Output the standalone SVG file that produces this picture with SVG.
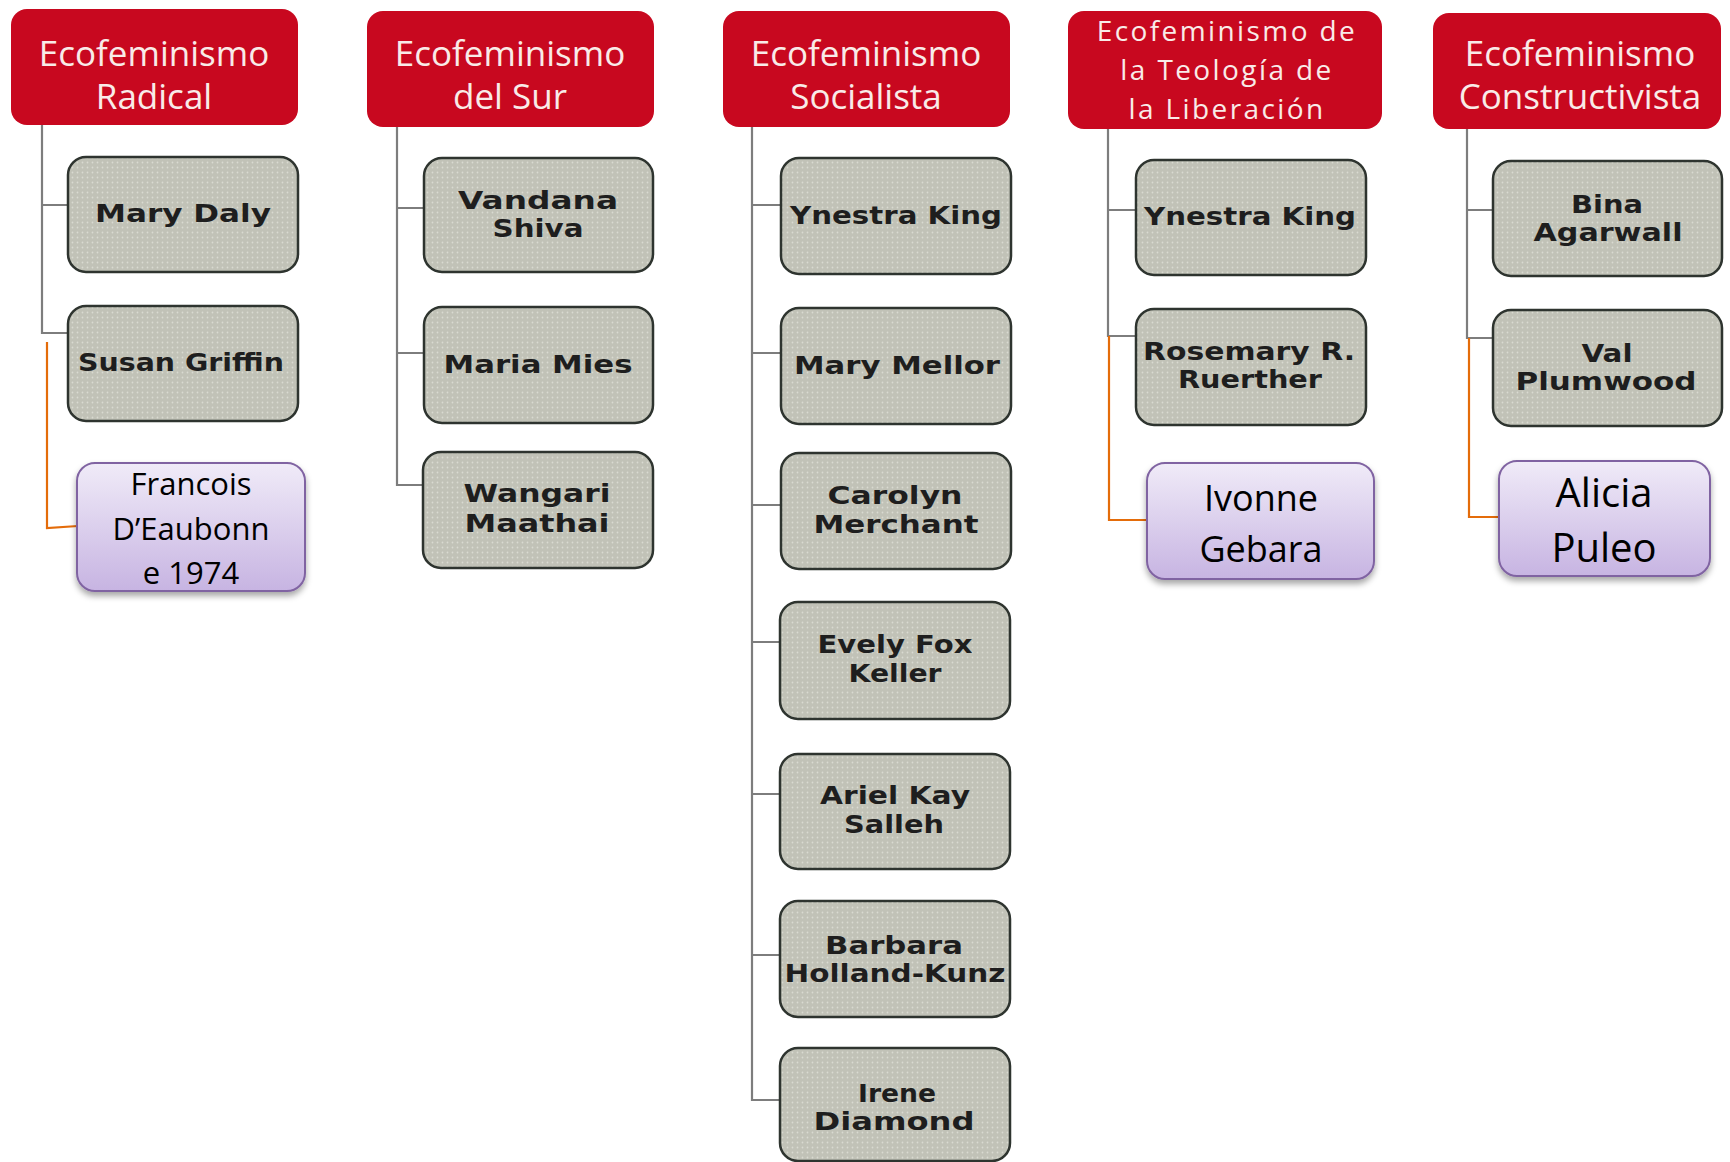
<svg xmlns="http://www.w3.org/2000/svg" width="1730" height="1162" viewBox="0 0 1730 1162">
<style>
.hdr{fill:#c8081f;}
.ht{fill:#f9ebe8;font-family:"Open Sans","Liberation Sans",sans-serif;font-size:35px;text-anchor:middle;}
.ht2{font-size:28px;letter-spacing:2.4px;}
.gb{fill:url(#dots);stroke:#2e342f;stroke-width:2.5;}
.gt{fill:#1e1e1e;font-family:"DejaVu Sans","Liberation Sans",sans-serif;font-weight:bold;font-size:25px;text-anchor:middle;}
.pb{fill:url(#lav);stroke:#8064a2;stroke-width:2;filter:url(#sh);}
.pt{fill:#000;font-family:"Open Sans","Liberation Sans",sans-serif;text-anchor:middle;}
.gl{stroke:#7d7d7d;stroke-width:2.2;fill:none;}
.ol{stroke:#e46c0a;stroke-width:2.2;fill:none;}
</style>
<defs>
<pattern id="dots" width="5" height="5" patternUnits="userSpaceOnUse">
<rect width="5" height="5" fill="#c1c2b7"/>
<circle cx="2.5" cy="2.5" r="0.9" fill="#d9dad1"/>
</pattern>
<linearGradient id="lav" x1="0" y1="0" x2="0" y2="1">
<stop offset="0" stop-color="#f0ebf8"/>
<stop offset="1" stop-color="#c7b4e2"/>
</linearGradient>
<filter id="sh" x="-10%" y="-10%" width="120%" height="130%">
<feDropShadow dx="0" dy="4" stdDeviation="3" flood-color="#000" flood-opacity="0.35"/>
</filter>
</defs>
<rect width="1730" height="1162" fill="#ffffff"/>

<g id="connectors">
<path class="gl" d="M42 125 V333 H68 M42 205 H68"/>
<path class="ol" d="M47 342 V528 L78 526"/>
<path class="gl" d="M397 127 V485 H424 M397 208 H424 M397 353 H424"/>
<path class="gl" d="M752 127 V1100 H781 M752 205 H781 M752 353 H781 M752 505 H781 M752 642 H781 M752 794 H781 M752 955 H781"/>
<path class="gl" d="M1108 129 V336 H1136 M1108 210 H1136"/>
<path class="ol" d="M1109 336 V520 H1147"/>
<path class="gl" d="M1467 129 V338 H1493 M1467 210 H1493"/>
<path class="ol" d="M1469 338 V517 H1499"/>
</g>

<g id="h-radical"><rect class="hdr" x="11" y="9" width="287" height="116" rx="16"/>
<text class="ht" x="154" y="66">Ecofeminismo</text><text class="ht" x="154" y="109">Radical</text></g>
<g id="h-sur"><rect class="hdr" x="367" y="11" width="287" height="116" rx="16"/>
<text class="ht" x="510" y="66">Ecofeminismo</text><text class="ht" x="510" y="109">del Sur</text></g>
<g id="h-socialista"><rect class="hdr" x="723" y="11" width="287" height="116" rx="16"/>
<text class="ht" x="866" y="66">Ecofeminismo</text><text class="ht" x="866" y="109">Socialista</text></g>
<g id="h-teologia"><rect class="hdr" x="1068" y="11" width="314" height="118" rx="16"/>
<text class="ht ht2" x="1227" y="41">Ecofeminismo de</text><text class="ht ht2" x="1227" y="80">la Teología de</text><text class="ht ht2" x="1227" y="119">la Liberación</text></g>
<g id="h-constructivista"><rect class="hdr" x="1433" y="13" width="288" height="116" rx="16"/>
<text class="ht" x="1580" y="66">Ecofeminismo</text><text class="ht" x="1580" y="109">Constructivista</text></g>

<g id="n-mary-daly"><rect class="gb" x="68" y="157" width="230" height="115" rx="18"/>
<text class="gt" x="183" y="222" textLength="176" lengthAdjust="spacingAndGlyphs">Mary Daly</text></g>
<g id="n-susan-griffin"><rect class="gb" x="68" y="306" width="230" height="115" rx="18"/>
<text class="gt" x="181" y="371" textLength="206" lengthAdjust="spacingAndGlyphs">Susan Griffin</text></g>
<g id="n-francois"><rect class="pb" x="77" y="463" width="228" height="128" rx="18"/>
<text class="pt" x="191" y="495" font-size="31">Francois</text><text class="pt" x="191" y="540" font-size="31">D’Eaubonn</text><text class="pt" x="191" y="584" font-size="31">e 1974</text></g>

<g id="n-vandana"><rect class="gb" x="424" y="158" width="229" height="114" rx="18"/>
<text class="gt" x="538" y="209" textLength="160" lengthAdjust="spacingAndGlyphs">Vandana</text><text class="gt" x="538" y="237" textLength="91" lengthAdjust="spacingAndGlyphs">Shiva</text></g>
<g id="n-maria-mies"><rect class="gb" x="424" y="307" width="229" height="116" rx="18"/>
<text class="gt" x="538" y="373" textLength="189" lengthAdjust="spacingAndGlyphs">Maria Mies</text></g>
<g id="n-wangari"><rect class="gb" x="423" y="452" width="230" height="116" rx="18"/>
<text class="gt" x="537" y="502" textLength="147" lengthAdjust="spacingAndGlyphs">Wangari</text><text class="gt" x="537" y="532" textLength="145" lengthAdjust="spacingAndGlyphs">Maathai</text></g>

<g id="n-ynestra-1"><rect class="gb" x="781" y="158" width="230" height="116" rx="18"/>
<text class="gt" x="896" y="224" textLength="212" lengthAdjust="spacingAndGlyphs">Ynestra King</text></g>
<g id="n-mary-mellor"><rect class="gb" x="781" y="308" width="230" height="116" rx="18"/>
<text class="gt" x="897" y="374" textLength="206" lengthAdjust="spacingAndGlyphs">Mary Mellor</text></g>
<g id="n-carolyn"><rect class="gb" x="781" y="453" width="230" height="116" rx="18"/>
<text class="gt" x="895" y="504" textLength="135" lengthAdjust="spacingAndGlyphs">Carolyn</text><text class="gt" x="896" y="533" textLength="165" lengthAdjust="spacingAndGlyphs">Merchant</text></g>
<g id="n-evely"><rect class="gb" x="780" y="602" width="230" height="117" rx="18"/>
<text class="gt" x="895" y="653" textLength="155" lengthAdjust="spacingAndGlyphs">Evely Fox</text><text class="gt" x="895" y="682" textLength="93" lengthAdjust="spacingAndGlyphs">Keller</text></g>
<g id="n-ariel"><rect class="gb" x="780" y="754" width="230" height="115" rx="18"/>
<text class="gt" x="895" y="804" textLength="150" lengthAdjust="spacingAndGlyphs">Ariel Kay</text><text class="gt" x="894" y="833" textLength="100" lengthAdjust="spacingAndGlyphs">Salleh</text></g>
<g id="n-barbara"><rect class="gb" x="780" y="901" width="230" height="116" rx="18"/>
<text class="gt" x="894" y="954" textLength="138" lengthAdjust="spacingAndGlyphs">Barbara</text><text class="gt" x="895" y="982" textLength="221" lengthAdjust="spacingAndGlyphs">Holland-Kunz</text></g>
<g id="n-irene"><rect class="gb" x="780" y="1048" width="230" height="113" rx="18"/>
<text class="gt" x="897" y="1102" textLength="78" lengthAdjust="spacingAndGlyphs">Irene</text><text class="gt" x="894" y="1130" textLength="161" lengthAdjust="spacingAndGlyphs">Diamond</text></g>

<g id="n-ynestra-2"><rect class="gb" x="1136" y="160" width="230" height="115" rx="18"/>
<text class="gt" x="1250" y="225" textLength="212" lengthAdjust="spacingAndGlyphs">Ynestra King</text></g>
<g id="n-rosemary"><rect class="gb" x="1136" y="309" width="230" height="116" rx="18"/>
<text class="gt" x="1249" y="360" textLength="212" lengthAdjust="spacingAndGlyphs">Rosemary R.</text><text class="gt" x="1250" y="388" textLength="144" lengthAdjust="spacingAndGlyphs">Ruerther</text></g>
<g id="n-ivonne"><rect class="pb" x="1147" y="463" width="227" height="116" rx="18"/>
<text class="pt" x="1261" y="511" font-size="36">Ivonne</text><text class="pt" x="1261" y="562" font-size="36">Gebara</text></g>

<g id="n-bina"><rect class="gb" x="1493" y="161" width="229" height="115" rx="18"/>
<text class="gt" x="1607" y="213" textLength="72" lengthAdjust="spacingAndGlyphs">Bina</text><text class="gt" x="1608" y="241" textLength="149" lengthAdjust="spacingAndGlyphs">Agarwall</text></g>
<g id="n-val"><rect class="gb" x="1493" y="310" width="229" height="116" rx="18"/>
<text class="gt" x="1607" y="362" textLength="51" lengthAdjust="spacingAndGlyphs">Val</text><text class="gt" x="1606" y="390" textLength="181" lengthAdjust="spacingAndGlyphs">Plumwood</text></g>
<g id="n-alicia"><rect class="pb" x="1499" y="461" width="211" height="115" rx="18"/>
<text class="pt" x="1604" y="507" font-size="40">Alicia</text><text class="pt" x="1604" y="562" font-size="40">Puleo</text></g>
</svg>
